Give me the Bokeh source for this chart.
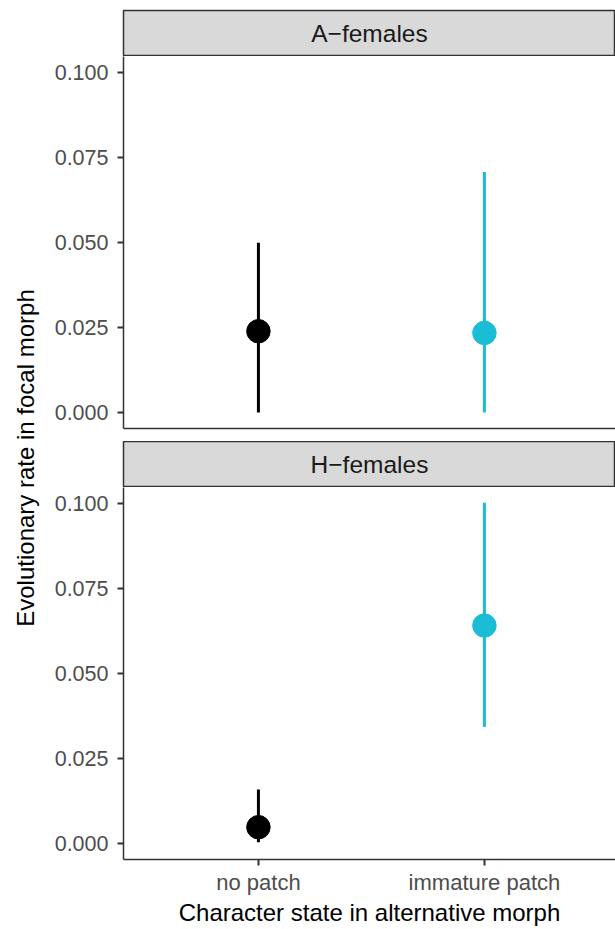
import math
from bokeh.plotting import figure
from bokeh.layouts import row, column
from bokeh.models import Range1d, FixedTicker, PrintfTickFormatter, ColumnDataSource, LinearAxis
from bokeh.embed import file_html
from bokeh.resources import INLINE
from bokeh.core.properties import value

# ---- data ----
categories = ["no patch", "immature patch"]
colors = ["#000000", "#1bbcd6"]
panels = ["A\u2212females", "H\u2212females"]

a_rate = [0.0239, 0.0234]
a_lo = [0.0000, 0.0000]
a_hi = [0.0499, 0.0707]

h_rate = [0.0048, 0.0641]
h_lo = [0.0004, 0.0343]
h_hi = [0.0159, 0.1002]

y_ticks = [0.000, 0.025, 0.050, 0.075, 0.100]
y_title = "Evolutionary rate in focal morph"
x_title = "Character state in alternative morph"

FONT = "Liberation Sans"
LAB_W = 48
W = 615 - LAB_W
LEFT = 75
STRIP_H = 46
FRAME_H = 372
TOP = 10
GAP = 13
BOTTOM = 70


def strip(label, top):
    s = figure(width=W, height=STRIP_H + top, x_range=Range1d(0, 1), y_range=Range1d(0, 1),
               x_axis_type=None, y_axis_type=None, output_backend="svg", toolbar_location=None,
               min_border_left=LEFT, min_border_right=0, min_border_top=top, min_border_bottom=0,
               background_fill_color="#d9d9d9", border_fill_color="white",
               outline_line_color="#333333", outline_line_width=1.5)
    s.text(x=[0.5], y=[0.5], text=[label], text_align="center", text_baseline="middle",
           text_font=value(FONT), text_font_size="24.5px", text_color="#1a1a1a")
    return s


def panel(rate, lo, hi, bottom_axis):
    xs = [i + 1 for i in range(len(categories))]
    src = ColumnDataSource(dict(x=xs, rate=rate, lo=lo, hi=hi, color=colors))
    bb = BOTTOM if bottom_axis else GAP
    p = figure(width=W, height=FRAME_H + bb, x_range=Range1d(0.403, 2.58),
               y_range=Range1d(-0.0047, 0.1047),
               x_axis_type=None, y_axis_type=None, output_backend="svg", toolbar_location=None,
               min_border_left=LEFT, min_border_right=0, min_border_top=0, min_border_bottom=bb,
               outline_line_color=None, background_fill_color="white", border_fill_color="white")
    yax = LinearAxis(ticker=FixedTicker(ticks=y_ticks), formatter=PrintfTickFormatter(format="%.3f"))
    yax.axis_line_color = "#333333"
    yax.axis_line_width = 1.5
    yax.major_tick_line_color = "#333333"
    yax.major_tick_line_width = 2
    yax.major_tick_out = 6
    yax.major_tick_in = 0
    yax.minor_tick_line_color = None
    yax.major_label_standoff = 9
    yax.major_label_text_font = FONT
    yax.major_label_text_font_size = "21.5px"
    yax.major_label_text_color = "#4d4d4d"
    p.add_layout(yax, "left")

    if bottom_axis:
        xax = LinearAxis(ticker=FixedTicker(ticks=xs),
                         major_label_overrides={x: c for x, c in zip(xs, categories)})
        xax.major_tick_line_color = "#333333"
        xax.major_tick_line_width = 2
        xax.major_tick_out = 6
        xax.major_tick_in = 0
        xax.major_label_standoff = 4
        xax.major_label_text_font = FONT
        xax.major_label_text_font_size = "22px"
        xax.major_label_text_color = "#4d4d4d"
        xax.axis_label = x_title
        xax.axis_label_standoff = 1
        xax.axis_label_text_font = FONT
        xax.axis_label_text_font_size = "24px"
        xax.axis_label_text_font_style = "normal"
        xax.axis_label_text_color = "black"
    else:
        xax = LinearAxis(ticker=FixedTicker(ticks=[]))
        xax.major_tick_out = 0
        xax.major_label_text_font_size = "0px"
    xax.axis_line_color = "#333333"
    xax.axis_line_width = 1.5
    xax.minor_tick_line_color = None
    p.add_layout(xax, "below")

    p.ygrid.ticker = FixedTicker(ticks=y_ticks)
    p.ygrid.grid_line_color = "#ebebeb"
    p.ygrid.grid_line_width = 1.5
    p.xgrid.visible = False

    p.segment(x0="x", y0="lo", x1="x", y1="hi", line_color="color", line_width=3, source=src)
    p.scatter(x="x", y="rate", size=23.5, fill_color="color", line_color="color", source=src)
    return p


s1 = strip(panels[0], TOP)
p1 = panel(a_rate, a_lo, a_hi, False)
s2 = strip(panels[1], 0)
p2 = panel(h_rate, h_lo, h_hi, True)

total_h = (STRIP_H + TOP) + (FRAME_H + GAP) + STRIP_H + (FRAME_H + BOTTOM)
lab = figure(width=LAB_W, height=total_h, x_range=Range1d(0, LAB_W), y_range=Range1d(0, total_h),
             x_axis_type=None, y_axis_type=None, output_backend="svg", toolbar_location=None,
             min_border=0, outline_line_color=None)
center_from_top = (STRIP_H + TOP) + (FRAME_H + GAP + STRIP_H + FRAME_H) / 2
lab.text(x=[25], y=[total_h - center_from_top], text=[y_title], angle=math.pi / 2,
         text_align="center", text_baseline="middle", text_font=value(FONT),
         text_font_size="24px", text_color="black")

layout = row(lab, column(s1, p1, s2, p2))
open("out.html", "w").write(file_html(layout, INLINE))
